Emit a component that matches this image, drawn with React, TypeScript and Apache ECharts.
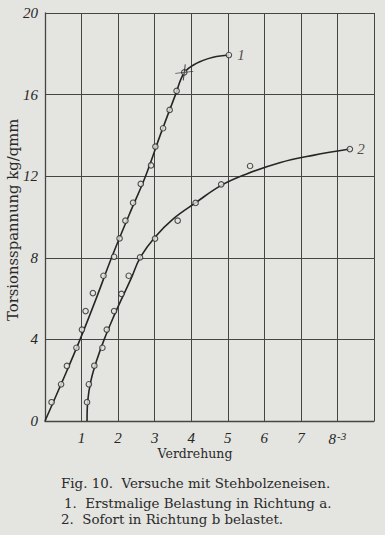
import React, { useEffect, useRef } from "react";
import * as echarts from "echarts";

// Curve 1: first loading (Erstmalige Belastung), measured points
const curve1Marks: [number, number][] = [
  [0.18, 0.92], [0.44, 1.8], [0.6, 2.7], [0.86, 3.59], [1.01, 4.48], [1.11, 5.39],
  [1.31, 6.27], [1.6, 7.12], [1.89, 8.05], [2.04, 8.95], [2.2, 9.82], [2.41, 10.7],
  [2.62, 11.62], [2.9, 12.53], [3.02, 13.45], [3.23, 14.35], [3.41, 15.25], [3.6, 16.18],
  [3.81, 17.09],
];
const curve1End: [number, number][] = [[5.03, 17.94]];
const curve1Cross: [number, number][] = [[3.81, 17.09]];
// Curve 1 drawn fit line
const curve1Line: [number, number][] = [
  [0, 0], [0.5, 2.05], [0.96, 4], [1.4, 6.0], [1.82, 8], [2.3, 10.1], [2.75, 12],
  [3.15, 14], [3.57, 16], [3.81, 17.07], [4.14, 17.53], [4.6, 17.83], [5.03, 17.94],
];

// Curve 2: loaded immediately in direction b
const curve2Marks: [number, number][] = [
  [1.15, 0.92], [1.2, 1.8], [1.35, 2.71], [1.57, 3.59], [1.69, 4.48], [1.89, 5.39],
  [2.09, 6.23], [2.29, 7.12], [2.6, 8.02], [3.01, 8.94], [3.63, 9.82], [4.12, 10.69],
  [4.82, 11.6], [5.61, 12.5],
];
const curve2End: [number, number][] = [[8.34, 13.33]];
const curve2Line: [number, number][] = [
  [1.15, 0], [1.17, 1], [1.26, 2], [1.42, 3], [1.62, 4], [1.85, 5], [2.1, 6], [2.36, 7],
  [2.6, 8], [3.0, 9], [3.5, 9.9], [4.12, 10.7], [4.82, 11.55], [5.5, 12.1], [6.42, 12.66],
  [7.33, 13.02], [8.34, 13.33],
];

const xTicks = ["", "1", "2", "3", "4", "5", "6", "7", "8", ""];
const yTicks = ["0", "4", "8", "12", "16", "20"];

const yTitle = "Torsionsspannung kg/qmm";
const xTitle = "Verdrehung";
const captionTitle = "Fig. 10.  Versuche mit Stehbolzeneisen.";
const captionLines = [
  "1.  Erstmalige Belastung in Richtung a.",
  "2.  Sofort in Richtung b belastet.",
];
const curveLabels = ["1", "2"];

const BG = "#e4e4e0";
const INK = "#262626";
const GRID = "#454545";

export default function App() {
  const ref = useRef<HTMLDivElement>(null);
  useEffect(() => {
    if (!ref.current) return;
    const chart = echarts.init(ref.current, null, { renderer: "svg" });
    const markStyle = {
      color: BG,
      borderColor: INK,
      borderWidth: 1.1,
    };
    const capStyle = (size: number) => ({
      fontFamily: "DejaVu Serif",
      fontSize: size,
      fill: "#2a2a2a",
      verticalAlign: "middle",
    });
    chart.setOption({
      animation: false,
      backgroundColor: BG,
      grid: { left: 45, top: 13, width: 329, height: 408, containLabel: false },
      xAxis: {
        type: "value",
        min: 0,
        max: 9,
        interval: 1,
        axisLine: { show: true, lineStyle: { color: GRID, width: 1.3 } },
        axisTick: { show: false },
        splitLine: { show: true, lineStyle: { color: GRID, width: 1 } },
        axisLabel: {
          margin: 9,
          formatter: (v: number) => {
            const t = xTicks[Math.round(v)] ?? "";
            if (t === "8") return "{a|8}{s|-3}";
            return t ? "{a|" + t + "}" : "";
          },
          rich: {
            a: { fontFamily: "Liberation Serif", fontStyle: "italic", fontSize: 15, color: INK },
            s: {
              fontFamily: "Liberation Serif",
              fontStyle: "italic",
              fontSize: 11,
              color: INK,
              verticalAlign: "top",
              padding: [0, 0, 6, 1],
            },
          },
        },
      },
      yAxis: {
        type: "value",
        min: 0,
        max: 20,
        interval: 4,
        axisLine: { show: true, lineStyle: { color: GRID, width: 1.3 } },
        axisTick: { show: false },
        splitLine: { show: true, lineStyle: { color: GRID, width: 1 } },
        axisLabel: {
          margin: 7,
          formatter: (v: number) => yTicks[Math.round(v / 4)] ?? "",
          fontFamily: "Liberation Serif",
          fontStyle: "italic",
          fontSize: 15,
          color: INK,
        },
      },
      series: [
        {
          type: "line",
          data: curve1Line,
          smooth: 0.4,
          showSymbol: false,
          lineStyle: { color: INK, width: 1.6 },
          z: 3,
        },
        {
          type: "line",
          data: curve2Line,
          smooth: 0.4,
          showSymbol: false,
          lineStyle: { color: INK, width: 1.6 },
          z: 3,
        },
        {
          type: "scatter",
          data: curve1Marks,
          symbol: "circle",
          symbolSize: 5.5,
          itemStyle: markStyle,
          z: 4,
        },
        {
          type: "scatter",
          data: curve2Marks,
          symbol: "circle",
          symbolSize: 5.5,
          itemStyle: markStyle,
          z: 4,
        },
        {
          type: "scatter",
          data: curve1End,
          symbol: "circle",
          symbolSize: 5.5,
          itemStyle: markStyle,
          z: 4,
          label: {
            show: true,
            position: "right",
            distance: 5,
            formatter: () => curveLabels[0],
            fontFamily: "Liberation Serif",
            fontStyle: "italic",
            fontSize: 15,
            color: INK,
          },
        },
        {
          type: "scatter",
          data: curve2End,
          symbol: "circle",
          symbolSize: 5.5,
          itemStyle: markStyle,
          z: 4,
          label: {
            show: true,
            position: "right",
            distance: 4,
            formatter: () => curveLabels[1],
            fontFamily: "Liberation Serif",
            fontStyle: "italic",
            fontSize: 15,
            color: INK,
          },
        },
        {
          type: "scatter",
          data: curve1Cross,
          symbol: "path://M-9,1 L9,-1 M1,-8 L-1,8",
          symbolSize: [18, 16],
          itemStyle: { color: "none", borderColor: INK, borderWidth: 1 },
          z: 5,
        },
      ],
      graphic: [
        {
          type: "text",
          x: 5,
          y: 321,
          rotation: Math.PI / 2,
          style: {
            text: yTitle,
            fontFamily: "DejaVu Serif",
            fontSize: 14.8,
            fill: "#2a2a2a",
          },
        },
        {
          type: "text",
          x: 195,
          y: 453,
          style: {
            text: xTitle,
            fontFamily: "DejaVu Serif",
            fontSize: 12.5,
            fill: "#2a2a2a",
            align: "center",
            verticalAlign: "middle",
          },
        },
        { type: "text", x: 61, y: 483, style: { text: captionTitle, ...capStyle(13.4) } },
        { type: "text", x: 64, y: 503, style: { text: captionLines[0], ...capStyle(13.4) } },
        { type: "text", x: 61, y: 519, style: { text: captionLines[1], ...capStyle(13.4) } },
      ],
    });
    return () => chart.dispose();
  }, []);
  return (
    <div
      ref={ref}
      style={{ position: "fixed", left: 0, top: 0, width: 385, height: 535 }}
    />
  );
}
